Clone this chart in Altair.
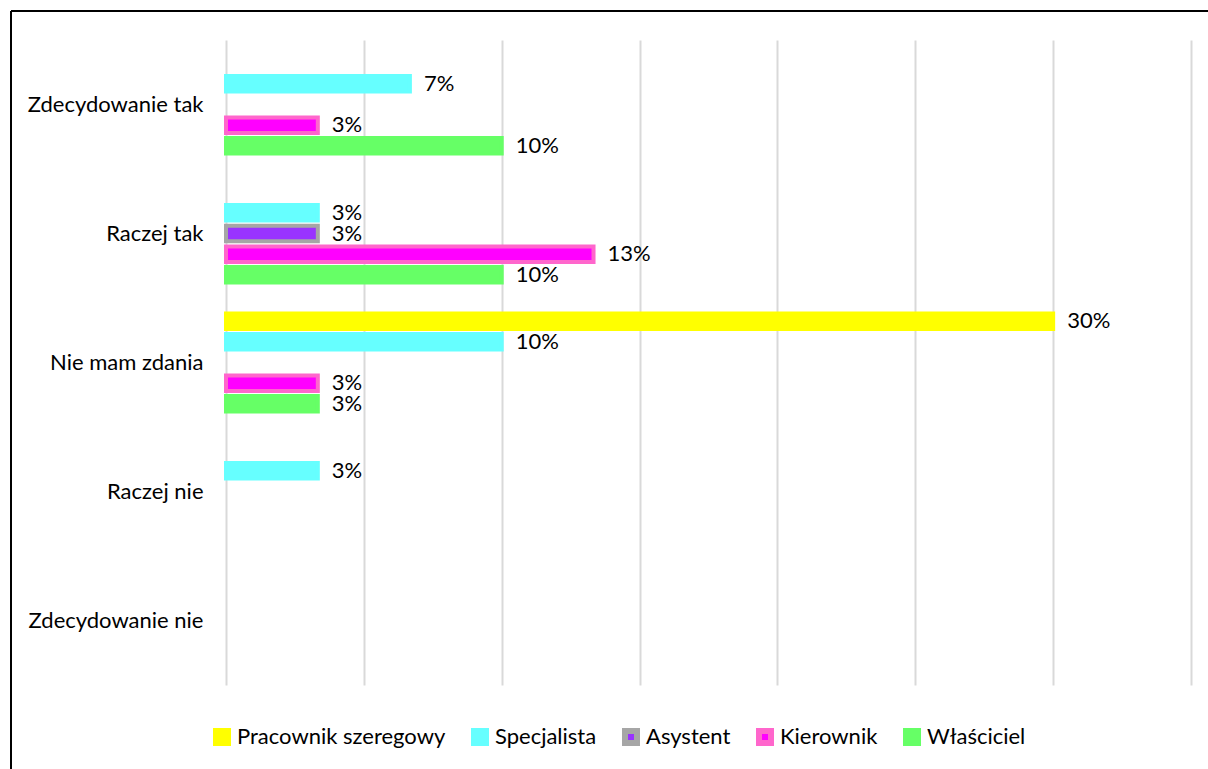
import altair as alt
import pandas as pd

categories = ["Zdecydowanie tak", "Raczej tak", "Nie mam zdania", "Raczej nie", "Zdecydowanie nie"]
series = ["Pracownik szeregowy", "Specjalista", "Asystent", "Kierownik", "Właściciel"]

# percent values (shares of respondents)
pracownik = [0, 0, 30.0, 0, 0]
specjalista = [6.67, 3.33, 10.0, 3.33, 0]
asystent = [0, 3.33, 0, 0, 0]
kierownik = [3.33, 13.33, 3.33, 0, 0]
wlasciciel = [10.0, 10.0, 3.33, 0, 0]

fills = ["#FFFF00", "#66FFFF", "#9933FF", "#FF00FF", "#66FF66"]
strokes = ["#FFFF00", "#66FFFF", "#A6A6A6", "#FF66CC", "#66FF66"]

rows = []
for s, vals in zip(series, [pracownik, specjalista, asystent, kierownik, wlasciciel]):
    for c, v in zip(categories, vals):
        rows.append({"category": c, "series": s, "value": v / 100.0})
df = pd.DataFrame(rows)

FONT = "Lato"
FS = 22

x_enc = alt.X("value:Q",
              scale=alt.Scale(domain=[0, 0.35], nice=False, zero=True),
              axis=alt.Axis(values=[0, 0.05, 0.10, 0.15, 0.20, 0.25, 0.30, 0.35],
                            grid=True, labels=False, ticks=False, domain=False,
                            title=None, gridColor="#D9D9D9", gridWidth=2))
y_enc = alt.Y("category:N", sort=categories,
              scale=alt.Scale(domain=categories, paddingInner=0.2, paddingOuter=0.1),
              axis=alt.Axis(title=None, domain=False, ticks=False, labelPadding=23,
                            labelFontSize=FS, labelFont=FONT, labelColor="black",
                            labelLimit=0))
yoff_enc = alt.YOffset("series:N", sort=series,
                       scale=alt.Scale(domain=series, paddingInner=0.25, paddingOuter=0.125))

legend = alt.Legend(title=None, orient="none", legendX=-15, legendY=686,
                    direction="horizontal", symbolType="square", symbolSize=144,
                    symbolStrokeWidth=6, labelFontSize=FS, labelFont=FONT,
                    labelColor="black", columnPadding=16, labelOffset=4,
                    labelLimit=0)

base = alt.Chart(df).transform_filter("datum.value > 0")

bars = base.mark_bar(strokeWidth=4, opacity=1).encode(
    x=x_enc,
    y=y_enc,
    yOffset=yoff_enc,
    fill=alt.Fill("series:N", scale=alt.Scale(domain=series, range=fills), legend=legend),
    stroke=alt.Stroke("series:N", scale=alt.Scale(domain=series, range=strokes), legend=legend),
)

labels = base.mark_text(align="left", baseline="middle", dx=14, fontSize=FS,
                        font=FONT, color="black").encode(
    x="value:Q",
    y=alt.Y("category:N", sort=categories),
    yOffset=alt.YOffset("series:N", sort=series),
    text=alt.Text("value:Q", format=".0%"),
)

one = alt.Chart(pd.DataFrame({"a": [0]}))
border_top = one.mark_rule(color="black", strokeWidth=2).encode(
    x=alt.value(-215), x2=alt.value(1000), y=alt.value(-29))
border_left = one.mark_rule(color="black", strokeWidth=2).encode(
    x=alt.value(-215), y=alt.value(-29), y2=alt.value(760))

chart = alt.layer(bars, labels, border_top, border_left).properties(
    width=965, height=645,
    autosize=alt.AutoSizeParams(type="none"),
    padding={"left": 226, "top": 40, "right": 17, "bottom": 84},
    background="white",
).configure_view(stroke=None)

chart.save("out.html", embed_options={"renderer": "svg", "actions": False})
